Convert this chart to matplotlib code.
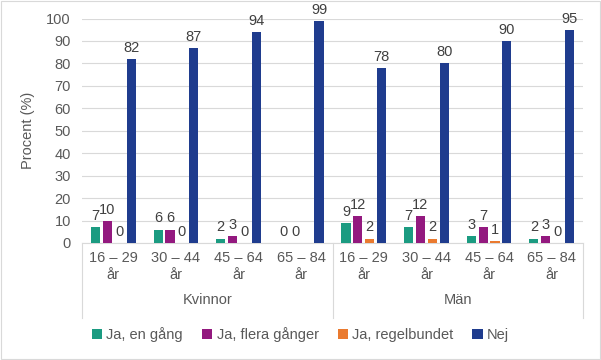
import matplotlib.pyplot as plt
import numpy as np
from matplotlib.lines import Line2D
import matplotlib.transforms as mtransforms

plt.rcParams['font.family'] = ['Liberation Sans', 'DejaVu Sans']

ages = ['16 – 29\når', '30 – 44\når', '45 – 64\når', '65 – 84\når'] * 2
genders = ['Kvinnor', 'Män']
series = ['Ja, en gång', 'Ja, flera gånger', 'Ja, regelbundet', 'Nej']
en_gang = [7, 6, 2, 0, 9, 7, 3, 2]
flera = [10, 6, 3, 0, 12, 12, 7, 3]
regel = [0, 0, 0, np.nan, 2, 2, 1, 0]
nej = [82, 87, 94, 99, 78, 80, 90, 95]
colors = ['#1B9B81', '#93197F', '#EA7A2F', '#1F3C8E']

txt = '#595959'
fig = plt.figure(figsize=(6.01, 3.6), dpi=100)
ax = fig.add_axes([82 / 601, 1 - 243 / 360, 501 / 601, 224.5 / 360])

x = np.arange(len(ages))
step = 0.19
width = 0.145
for i, (vals, col, name) in enumerate(zip([en_gang, flera, regel, nej], colors, series)):
    pos = x + (i - 1.5) * step
    v = np.array(vals, dtype=float)
    ax.bar(pos, np.nan_to_num(v), width, color=col, label=name, zorder=3)
    for p, val in zip(pos, v):
        if np.isnan(val):
            continue
        ax.text(p, val + 1.8, f'{int(val)}', ha='center', va='bottom',
                fontsize=10.5, color='#404040')

ax.set_xlim(-0.5, len(ages) - 0.5)
ax.set_ylim(0, 100)
ax.set_yticks(range(0, 101, 10))
ax.yaxis.grid(True, color='#D9D9D9', linewidth=0.8, zorder=0)
ax.set_axisbelow(True)
for s in ['left', 'right', 'top']:
    ax.spines[s].set_visible(False)
ax.spines['bottom'].set_color('#D9D9D9')
ax.tick_params(axis='y', length=0, labelsize=10.5, labelcolor=txt, pad=8)
ax.tick_params(axis='x', length=0, labelsize=10.5, labelcolor=txt, pad=6)
ax.set_xticks(x)
ax.set_xticklabels(ages, linespacing=1.2)
ax.set_ylabel('Procent (%)', fontsize=10.5, color=txt, labelpad=8)

# gender group labels and separators
trans = mtransforms.blended_transform_factory(ax.transData, fig.transFigure)
for gi, g in enumerate(genders):
    ax.text(gi * 4 + 1.5, 1 - 300 / 360, g, transform=trans, ha='center',
            va='center', fontsize=10.5, color=txt)
for xs in [-0.5, 3.5, 7.5]:
    ax.add_line(Line2D([xs, xs], [1 - 243 / 360, 1 - 318 / 360], transform=trans,
                       color='#D9D9D9', linewidth=0.8, clip_on=False))

fig.legend(loc='center', bbox_to_anchor=(0.5, 1 - 335 / 360), ncol=4, frameon=False,
           fontsize=10.5, labelcolor=txt, handlelength=0.7, handleheight=0.7,
           handletextpad=0.3, columnspacing=1.3)

fig.add_artist(plt.Rectangle((0.001, 0.002), 0.997, 0.995, transform=fig.transFigure,
                             fill=False, edgecolor='#D9D9D9', linewidth=0.8))

fig.savefig('out.png', dpi=100)
